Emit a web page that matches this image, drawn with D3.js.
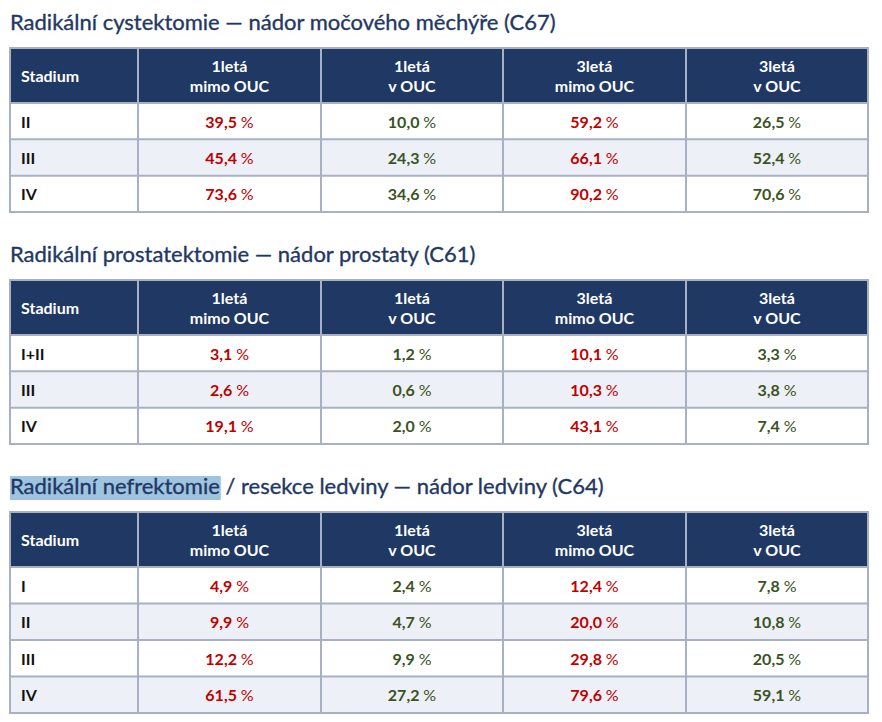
<!DOCTYPE html>
<html><head><meta charset="utf-8">
<script src="https://cdn.jsdelivr.net/npm/d3@7"></script>
<style>
html,body{margin:0;padding:0;background:#fff;}
svg{display:block;}
</style></head>
<body><svg id="c" width="882" height="722"></svg>
<script>
// ---- data ----
const columns = ["Stadium", "1letá\nmimo OUC", "1letá\nv OUC", "3letá\nmimo OUC", "3letá\nv OUC"];
const cystTitle = "Radikální cystektomie — nádor močového měchýře (C67)";
const cystStages = ["II", "III", "IV"];
const cyst1Out = [39.5, 45.4, 73.6];
const cyst1In = [10.0, 24.3, 34.6];
const cyst3Out = [59.2, 66.1, 90.2];
const cyst3In = [26.5, 52.4, 70.6];

const prostTitle = "Radikální prostatektomie — nádor prostaty (C61)";
const prostStages = ["I+II", "III", "IV"];
const prost1Out = [3.1, 2.6, 19.1];
const prost1In = [1.2, 0.6, 2.0];
const prost3Out = [10.1, 10.3, 43.1];
const prost3In = [3.3, 3.8, 7.4];

const nefTitleHighlighted = "Radikální nefrektomie";
const nefTitleRest = " / resekce ledviny — nádor ledviny (C64)";
const nefStages = ["I", "II", "III", "IV"];
const nef1Out = [4.9, 9.9, 12.2, 61.5];
const nef1In = [2.4, 4.7, 9.9, 27.2];
const nef3Out = [12.4, 20.0, 29.8, 79.6];
const nef3In = [7.8, 10.8, 20.5, 59.1];

// ---- styles ----
const C = {
  title: "#1f3864", header: "#203864", border: "#a9b0c4", alt: "#edf0f7",
  red: "#c00000", green: "#3b5323", highlight: "#9fc4df"
};
const titleFont = "Lato, 'Open Sans', sans-serif";
const cellFont = "Lato, 'Open Sans', sans-serif";
const FS = 16;

const svg = d3.select("#c");
const x = d3.scaleOrdinal().domain(d3.range(6)).range([10, 138, 321, 503, 686, 868]);
const fmt = v => d3.format(".1f")(v).replace(".", ",");

function drawTable(cfg) {
  const g = svg.append("g");
  // title
  const t = g.append("text").attr("x", 10).attr("y", cfg.titleY)
    .attr("font-family", titleFont).attr("font-size", 22).attr("fill", C.title)
    .attr("stroke", C.title).attr("stroke-width", 0.35);
  if (cfg.highlight) {
    const hl = t.append("tspan").text(cfg.highlight);
    t.append("tspan").text(cfg.title);
    const w = hl.node().getComputedTextLength();
    g.insert("rect", "text").attr("x", 10).attr("y", cfg.titleY - 18)
      .attr("width", w + 1).attr("height", 24).attr("fill", C.highlight);
  } else {
    t.text(cfg.title);
  }

  const top = cfg.top, hh = 55;
  const y = d3.scaleBand().domain(d3.range(cfg.stages.length)).range([top + hh, cfg.bottom]);
  // header
  g.append("rect").attr("x", x(0)).attr("y", top).attr("width", x(5) - x(0)).attr("height", hh).attr("fill", C.header);
  // rows bg
  g.selectAll(".rowbg").data(cfg.stages).join("rect")
    .attr("x", x(0)).attr("y", (d, i) => y(i)).attr("width", x(5) - x(0)).attr("height", y.bandwidth())
    .attr("fill", (d, i) => i % 2 ? C.alt : "#fff");
  // header text
  columns.forEach((c, ci) => {
    const lines = c.split("\n");
    const tx = g.append("text").attr("font-family", cellFont).attr("font-weight", 700)
      .attr("font-size", FS).attr("fill", "#fff");
    if (ci === 0) {
      tx.attr("x", x(0) + 11).attr("y", top + hh / 2 + 6.5).text(lines[0]);
    } else {
      const cx = (x(ci) + x(ci + 1)) / 2;
      tx.attr("text-anchor", "middle");
      lines.forEach((l, li) => tx.append("tspan").attr("x", cx).attr("y", top + 24 + li * 20).text(l));
    }
  });
  // body
  const series = [cfg.s1o, cfg.s1i, cfg.s3o, cfg.s3i];
  cfg.stages.forEach((s, ri) => {
    const by = y(ri) + y.bandwidth() / 2 + 6.5;
    g.append("text").attr("x", x(0) + 11).attr("y", by).attr("font-family", cellFont)
      .attr("font-weight", 700).attr("font-size", FS).attr("fill", "#111").text(s);
    series.forEach((arr, si) => {
      const cx = (x(si + 1) + x(si + 2)) / 2;
      const tx = g.append("text").attr("x", cx).attr("y", by).attr("text-anchor", "middle")
        .attr("font-family", cellFont).attr("font-weight", 700).attr("font-size", FS)
        .attr("fill", si % 2 === 0 ? C.red : C.green);
      tx.append("tspan").text(fmt(arr[ri]) + " ");
      tx.append("tspan").attr("font-weight", 400).text("%");
    });
  });
  // grid lines
  const lines = g.append("g").attr("stroke", C.border).attr("stroke-width", 2).attr("fill", "none");
  d3.range(1, 5).forEach(i => lines.append("line").attr("x1", x(i)).attr("x2", x(i)).attr("y1", top).attr("y2", cfg.bottom));
  cfg.stages.forEach((s, i) => { if (i > 0) lines.append("line").attr("x1", x(0)).attr("x2", x(5)).attr("y1", y(i)).attr("y2", y(i)); });
  lines.append("line").attr("x1", x(0)).attr("x2", x(5)).attr("y1", top + hh).attr("y2", top + hh);
  lines.append("rect").attr("x", x(0)).attr("y", top).attr("width", x(5) - x(0)).attr("height", cfg.bottom - top);
}

drawTable({ title: cystTitle, titleY: 30, top: 48, bottom: 212, stages: cystStages,
  s1o: cyst1Out, s1i: cyst1In, s3o: cyst3Out, s3i: cyst3In });
drawTable({ title: prostTitle, titleY: 262, top: 280, bottom: 444, stages: prostStages,
  s1o: prost1Out, s1i: prost1In, s3o: prost3Out, s3i: prost3In });
drawTable({ highlight: nefTitleHighlighted, title: nefTitleRest, titleY: 494, top: 512, bottom: 713, stages: nefStages,
  s1o: nef1Out, s1i: nef1In, s3o: nef3Out, s3i: nef3In });
</script></body></html>
